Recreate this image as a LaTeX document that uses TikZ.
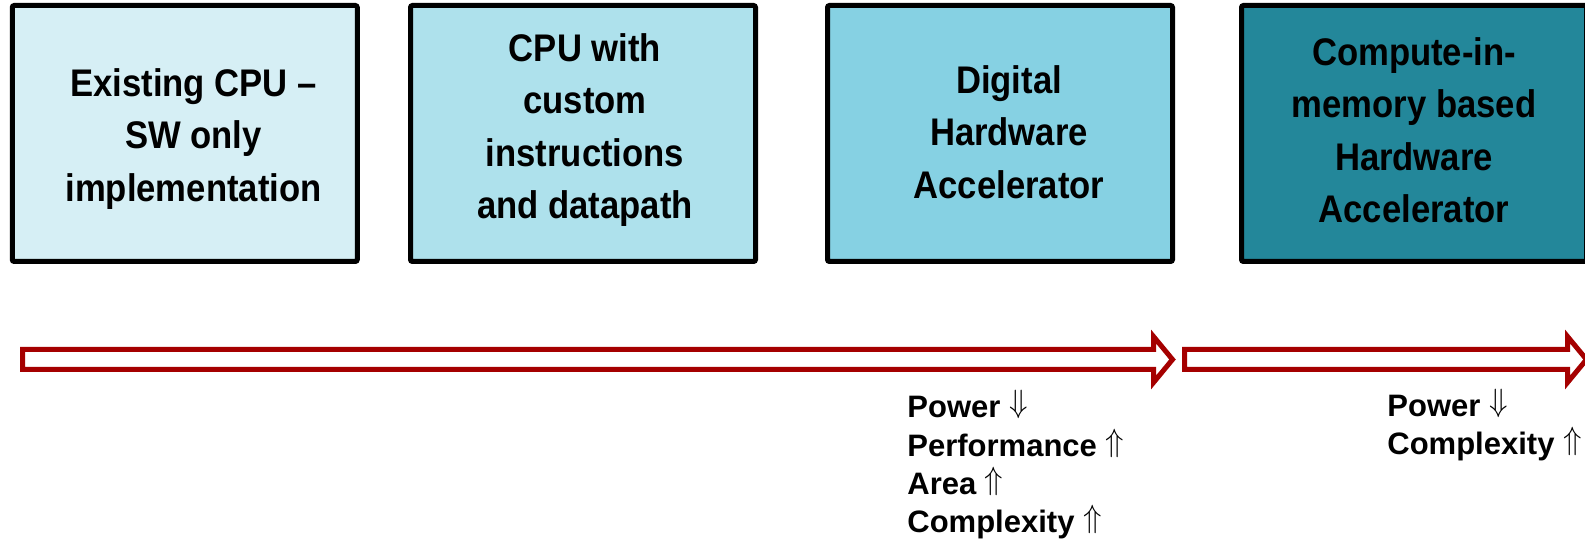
\documentclass[tikz,border=0pt]{standalone}
\usepackage{graphicx}
\usepackage{fontspec}
\setmainfont{Liberation Sans}
\newfontfamily\stagefont[FakeStretch=0.9,Ligatures=TeX]{Liberation Sans}

\definecolor{boxa}{HTML}{D6EFF5}
\definecolor{boxb}{HTML}{AEE1EC}
\definecolor{boxc}{HTML}{86D1E3}
\definecolor{boxd}{HTML}{23879A}
\definecolor{flowred}{HTML}{A50000}

\newcommand{\upar}{\raisebox{2.5pt}[12pt][0pt]{\scalebox{1.05}[1.12]{$\Uparrow$}}}
\newcommand{\dnar}{\raisebox{2.5pt}[12pt][0pt]{\scalebox{1.05}[1.12]{$\Downarrow$}}}

\tikzset{
  stage/.style={draw=black,line width=2.5pt,rounded corners=1pt,
    minimum width=172.5pt,minimum height=128pt},
  stagetext/.style={align=center,
    font=\stagefont\bfseries\fontsize{19.25}{26.25}\selectfont},
  flow/.style={draw=flowred,fill=white,line width=2.5pt,line join=miter},
  gain/.style={anchor=base west,inner sep=0pt,
    font=\bfseries\fontsize{15.5}{19}\selectfont}
}

\begin{document}
\begin{tikzpicture}[x=0.5pt,y=-0.5pt]

\useasboundingbox (0,0) rectangle (1585,544);
\clip (0,0) rectangle (1585,544);

% stages
\node[stage,fill=boxa] (sw) at (184.75,133.5) {};
\node[stage,fill=boxb] (ci) at (583,133.5) {};
\node[stage,fill=boxc] (dh) at (1000,133.5) {};
\node[stage,fill=boxd] (cim) at (1414,133.5) {};

\node[stagetext] (swt) at (193.5,139) {Existing CPU \textendash\\SW only\\implementation};
\node[stagetext] (cit) at (585,130) {CPU with\\custom\\instructions\\and datapath};
\node[stagetext] (dht) at (1009,132) {Digital\\Hardware\\Accelerator};
\node[stagetext] (cimt) at (1414,130) {Compute-in-\\memory based\\Hardware\\Accelerator};

% block arrows
\draw[flow] (22.5,349.5) -- (1153.5,349.5) -- (1153.5,336.5) -- (1172.5,359.5)
  -- (1153.5,382.5) -- (1153.5,369.5) -- (22.5,369.5) -- cycle;
\draw[flow] (1184.5,349.5) -- (1567.5,349.5) -- (1567.5,336.5) -- (1586.5,359.5)
  -- (1567.5,382.5) -- (1567.5,369.5) -- (1184.5,369.5) -- cycle;

% trade-offs
\node[gain] (pw1) at (907,418) {Power \dnar};
\node[gain] (pf1) at (907,456.5) {Performance \upar};
\node[gain] (ar1) at (907,495) {Area \upar};
\node[gain] (cx1) at (907,533) {Complexity \upar};

\node[gain] (pw2) at (1387,417) {Power \dnar};
\node[gain] (cx2) at (1387,455) {Complexity \upar};

\end{tikzpicture}
\end{document}
